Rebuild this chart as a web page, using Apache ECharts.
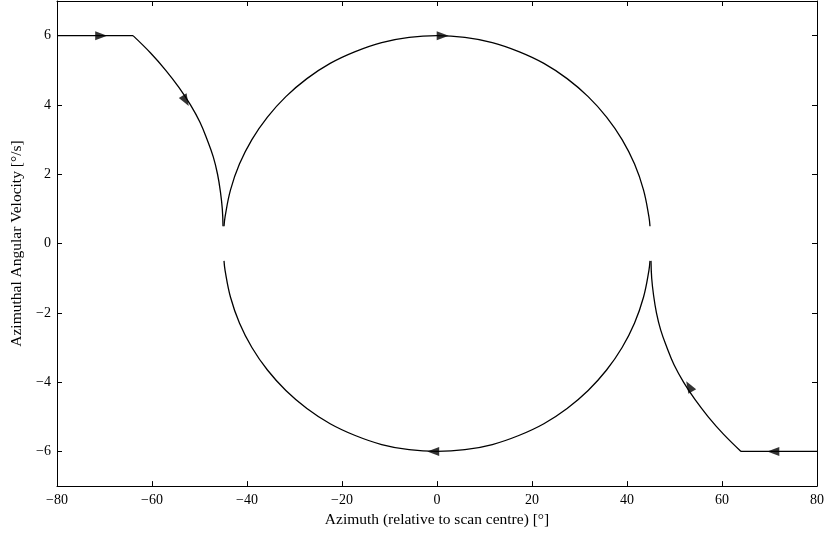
<!DOCTYPE html>
<html>
<head>
<meta charset="utf-8">
<title>Azimuthal angular velocity</title>
<script src="https://cdn.jsdelivr.net/npm/echarts@6/dist/echarts.min.js"></script>
<style>
  html, body { margin: 0; padding: 0; background: #fff; }
  #chart { width: 830px; height: 533px; }
</style>
</head>
<body>
<div id="chart"></div>
<script>
// [azimuth deg, angular velocity deg/s]
const leftCruise = [[-80, 6], [-64, 6]];
const leftBranch = [
  [-64, 6], [-60.3, 5.5], [-57.1, 5], [-54.3, 4.5], [-51.9, 4],
  [-49.9, 3.5], [-48.4, 3], [-47.1, 2.5], [-46.2, 2], [-45.6, 1.5],
  [-45.2, 1], [-45.05, 0.5]
];
const upperLoop = [
  [-44.84, 0.5], [-44.61, 0.78], [-43.47, 1.55], [-41.57, 2.3], [-38.97, 3],
  [-35.7, 3.65], [-31.82, 4.24], [-27.39, 4.76], [-22.5, 5.2], [-17.22, 5.54],
  [-11.65, 5.8], [-5.87, 5.95], [0, 6], [5.87, 5.95], [11.65, 5.8],
  [17.22, 5.54], [22.5, 5.2], [27.39, 4.76], [31.82, 4.24], [35.7, 3.65],
  [38.97, 3], [41.57, 2.3], [43.47, 1.55], [44.61, 0.78], [44.84, 0.5]
];
const lowerLoop = [
  [-44.84, -0.5], [-44.61, -0.78], [-43.47, -1.55], [-41.57, -2.3], [-38.97, -3],
  [-35.7, -3.65], [-31.82, -4.24], [-27.39, -4.76], [-22.5, -5.2], [-17.22, -5.54],
  [-11.65, -5.8], [-5.87, -5.95], [0, -6], [5.87, -5.95], [11.65, -5.8],
  [17.22, -5.54], [22.5, -5.2], [27.39, -4.76], [31.82, -4.24], [35.7, -3.65],
  [38.97, -3], [41.57, -2.3], [43.47, -1.55], [44.61, -0.78], [44.84, -0.5]
];
const rightBranch = [
  [45.05, -0.5], [45.2, -1], [45.6, -1.5], [46.2, -2], [47.1, -2.5],
  [48.4, -3], [49.9, -3.5], [51.9, -4], [54.3, -4.5], [57.1, -5],
  [60.3, -5.5], [64, -6]
];
const rightCruise = [[64, -6], [80, -6]];
// arrow heads showing scan direction
const arrowPoints = [[-70.7, 6], [-52.9, 4.12], [1.2, 6], [-0.8, -6], [53.1, -4.12], [70.8, -6]];
const arrowRotation = [-90, -149.5, -90, 90, 30.5, 90];

const xTickValues = [-80, -60, -40, -20, 0, 20, 40, 60, 80];
const yTickValues = [-6, -4, -2, 0, 2, 4, 6];

const serif = "Liberation Serif";
const minus = (v) => String(v).replace("-", "\u2212");

const chart = echarts.init(document.getElementById("chart"), null, { renderer: "canvas" });

const frameLine = { show: true, onZero: false, lineStyle: { color: "#000", width: 1 } };
const ticks = (vals) => ({
  show: true, inside: true, length: 5, customValues: vals,
  lineStyle: { color: "#000", width: 1 },
});

const lineSeries = (data, curved) => ({
  type: "line",
  data: data,
  showSymbol: false,
  symbol: "none",
  silent: true,
  smooth: curved ? 0.4 : false,
  lineStyle: { color: "#000", width: 1.3 },
});

const option = {
  animation: false,
  grid: { left: 57, right: 13, top: 1, bottom: 42 },
  xAxis: [
    {
      type: "value", min: -80, max: 80,
      axisLine: frameLine,
      axisTick: ticks(xTickValues),
      splitLine: { show: false },
      axisLabel: {
        color: "#000", fontFamily: serif, fontSize: 14, margin: 7,
        customValues: xTickValues, formatter: minus,
      },
      name: "Azimuth (relative to scan centre) [°]",
      nameLocation: "middle",
      nameGap: 23,
      nameTextStyle: { color: "#000", fontFamily: serif, fontSize: 15.5 },
    },
    {
      type: "value", position: "top", min: -80, max: 80,
      axisLine: frameLine, axisTick: ticks(xTickValues),
      axisLabel: { show: false }, splitLine: { show: false },
    },
  ],
  yAxis: [
    {
      type: "value", min: -7, max: 7,
      axisLine: frameLine,
      axisTick: ticks(yTickValues),
      splitLine: { show: false },
      axisLabel: {
        color: "#000", fontFamily: serif, fontSize: 14, margin: 6,
        customValues: yTickValues, formatter: minus,
      },
      name: "Azimuthal Angular Velocity [°/s]",
      nameLocation: "middle",
      nameGap: 30,
      nameTextStyle: { color: "#000", fontFamily: serif, fontSize: 15.5 },
    },
    {
      type: "value", position: "right", min: -7, max: 7,
      axisLine: frameLine, axisTick: ticks(yTickValues),
      axisLabel: { show: false }, splitLine: { show: false },
    },
  ],
  series: [
    lineSeries(leftCruise),
    lineSeries(leftBranch, true),
    lineSeries(upperLoop, true),
    lineSeries(lowerLoop, true),
    lineSeries(rightBranch, true),
    lineSeries(rightCruise),
    {
      type: "scatter",
      silent: true,
      symbol: "triangle",
      symbolSize: [9, 12],
      itemStyle: { color: "#000" },
      data: arrowPoints.map((p, i) => ({ value: p, symbolRotate: arrowRotation[i] })),
    },
  ],
};

chart.setOption(option);
</script>
</body>
</html>
